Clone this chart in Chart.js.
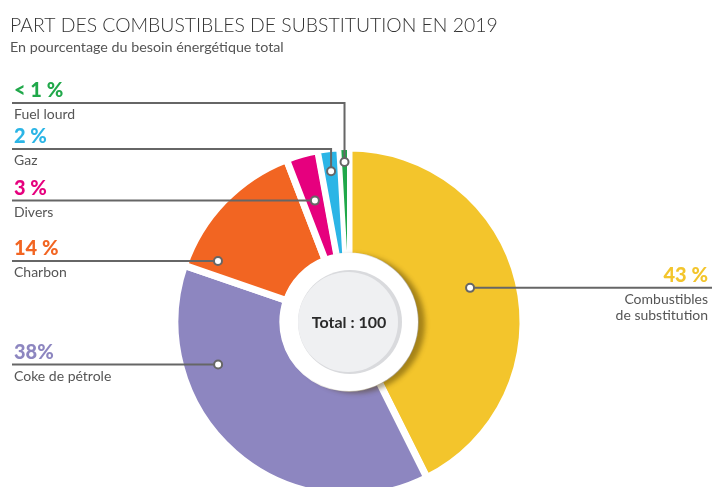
<!DOCTYPE html>
<html>
<head>
<meta charset="utf-8">
<script src="https://cdn.jsdelivr.net/npm/chart.js@4.4.0/dist/chart.umd.min.js"></script>
<style>
html, body { margin: 0; padding: 0; background: #fff; overflow: hidden; }
#wrap { position: relative; width: 712px; height: 487px; }
</style>
</head>
<body>
<div id="wrap"><canvas id="graficoPart"></canvas></div>
<script>
// données
const categories = ["Combustibles de substitution", "Coke de pétrole", "Charbon", "Divers", "Gaz", "Fuel lourd"];
const nameLines = [["Combustibles", "de substitution"], ["Coke de pétrole"], ["Charbon"], ["Divers"], ["Gaz"], ["Fuel lourd"]];
const values = [43, 38, 14, 3, 2, 0.9];
const valueLabels = ["43 %", "38%", "14 %", "3 %", "2 %", "< 1 %"];
const colors = ["#f3c52c", "#8d86c0", "#f26522", "#e6007e", "#2bb5e6", "#20a84a"];
const totalLabel = "Total : 100";
const title = "PART DES COMBUSTIBLES DE SUBSTITUTION EN 2019";
const subtitle = "En pourcentage du besoin énergétique total";

// position des points d'ancrage dans chaque part (fraction d'angle, fraction de rayon)
const callouts = [
  { side: "right", af: 0.484, rf: 0.553 },
  { side: "left", af: 0.727, rf: 0.663 },
  { side: "left", af: 0.12, rf: 0.727 },
  { side: "left", af: 0.5, rf: 0.556 },
  { side: "left", af: 0.5, rf: 0.794, lineY: 149 },
  { side: "left", af: 0.5, rf: 0.87, lineY: 103 }
];

const calloutPlugin = {
  id: "callouts",
  afterDatasetsDraw(chart) {
    const ctx = chart.ctx;
    const arcs = chart.getDatasetMeta(0).data;
    const cx = arcs[0].x, cy = arcs[0].y;

    // disque central
    ctx.save();
    ctx.shadowColor = "rgba(70,50,0,0.45)";
    ctx.shadowBlur = 5;
    ctx.shadowOffsetX = 7;
    ctx.shadowOffsetY = 2;
    ctx.beginPath();
    ctx.arc(cx, cy, 69, 0, Math.PI * 2);
    ctx.fillStyle = "#fff";
    ctx.fill();
    ctx.restore();

    ctx.beginPath();
    ctx.arc(cx + 1, cy, 52, 0, Math.PI * 2);
    ctx.fillStyle = "#d9dadd";
    ctx.fill();
    ctx.beginPath();
    ctx.arc(cx - 1, cy, 50, 0, Math.PI * 2);
    ctx.fillStyle = "#eff0f2";
    ctx.fill();

    ctx.fillStyle = "#2a2a2a";
    ctx.font = "bold 16px Lato";
    ctx.textAlign = "center";
    ctx.textBaseline = "alphabetic";
    ctx.fillText(totalLabel, cx, cy + 6);

    // titres
    ctx.textAlign = "left";
    ctx.fillStyle = "#333";
    ctx.font = "300 19.4px Lato";
    ctx.fillText(title, 10, 32);
    ctx.fillStyle = "#555";
    ctx.font = "14.3px Lato";
    ctx.fillText(subtitle, 10, 52);

    // étiquettes
    arcs.forEach((arc, i) => {
      const c = callouts[i];
      const a = arc.startAngle + (arc.endAngle - arc.startAngle) * c.af;
      const r = arc.innerRadius + (arc.outerRadius - arc.innerRadius) * c.rf;
      const px = cx + Math.cos(a) * r;
      const py = cy + Math.sin(a) * r;
      const ly = c.lineY != null ? c.lineY : py;

      ctx.strokeStyle = "#666";
      ctx.lineWidth = 2;
      ctx.beginPath();
      if (c.side === "left") {
        ctx.moveTo(12, ly);
        ctx.lineTo(px, ly);
        ctx.lineTo(px, py);
      } else {
        ctx.moveTo(712, ly);
        ctx.lineTo(px, ly);
      }
      ctx.stroke();

      ctx.beginPath();
      ctx.arc(px, py, 4, 0, Math.PI * 2);
      ctx.fillStyle = "#fff";
      ctx.fill();
      ctx.stroke();

      const x = c.side === "left" ? 14 : 708;
      ctx.textAlign = c.side === "left" ? "left" : "right";
      ctx.fillStyle = colors[i];
      ctx.font = "900 20px Lato";
      ctx.fillText(valueLabels[i], x, ly - 6);
      ctx.fillStyle = "#555";
      ctx.font = "14px Lato";
      nameLines[i].forEach((t, k) => ctx.fillText(t, x, ly + 16 + k * 16));
    });
  }
};

document.addEventListener("DOMContentLoaded", function () {

new Chart(document.getElementById("graficoPart"), {
  type: "doughnut",
  data: {
    labels: categories,
    datasets: [{
      data: values,
      backgroundColor: colors,
      borderColor: "#fff",
      borderWidth: [7, 7, 7, 7, 6, 4],
      clip: false
    }]
  },
  options: {
    responsive: true,
    maintainAspectRatio: false,
    animation: false,
    radius: 174,
    cutout: "38%",
    layout: { padding: { left: 0, right: 14, top: 157, bottom: 0 } },
    plugins: {
      legend: { display: false },
      tooltip: { enabled: false }
    }
  },
  plugins: [calloutPlugin]
});

});
</script>
</body>
</html>
